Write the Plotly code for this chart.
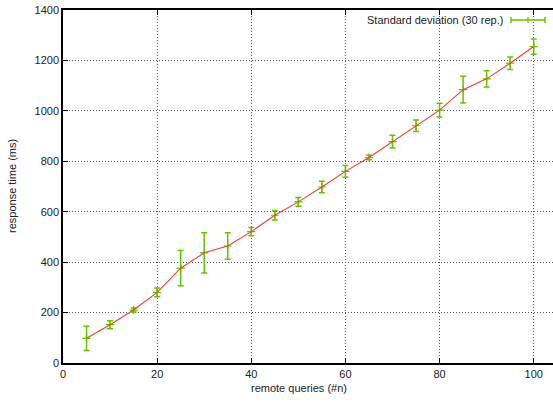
import plotly.graph_objects as go

queries = [5, 10, 15, 20, 25, 30, 35, 40, 45, 50, 55, 60, 65, 70, 75, 80, 85, 90, 95, 100]
resp_ms = [98, 152, 210, 280, 376, 437, 464, 521, 586, 639, 698, 760, 815, 878, 941, 1003, 1084, 1127, 1189, 1255]
std_ms = [48, 16, 8, 17, 70, 80, 53, 16, 19, 17, 23, 23, 9, 25, 23, 27, 53, 32, 25, 30]

legend_label = "Standard deviation (30 rep.)"
x_title = "remote queries (#n)"
y_title = "response time (ms)"
x_ticks = [0, 20, 40, 60, 80, 100]
y_ticks = [0, 200, 400, 600, 800, 1000, 1200, 1400]

RED = "#e8412c"
GREEN = "#64c400"
FONT = "Liberation Sans, Arial, sans-serif"

fig = go.Figure()
fig.add_trace(go.Scatter(
    x=queries, y=resp_ms, mode="markers",
    marker=dict(symbol="cross-thin", size=6, line=dict(color=GREEN, width=1.2), color=GREEN),
    error_y=dict(type="data", array=std_ms, visible=True, color=GREEN, thickness=1.5, width=3),
    showlegend=False, hoverinfo="skip"))
fig.add_trace(go.Scatter(
    x=queries, y=resp_ms, mode="lines",
    line=dict(color=RED, width=1.1),
    showlegend=False))

axis_common = dict(
    showline=True, linecolor="black", linewidth=1.5,
    ticks="inside", ticklen=5, tickcolor="black", tickwidth=1,
    showgrid=True, gridcolor="#555555", gridwidth=1, griddash="1px,2px",
    zeroline=False, tickfont=dict(family=FONT, size=11, color="#222222"),
)
fig.update_xaxes(range=[0, 104.1], tickvals=x_ticks, mirror="all", **axis_common)
fig.update_yaxes(range=[0, 1400], tickvals=y_ticks, mirror=False, **axis_common)

fig.update_layout(
    width=553, height=402,
    margin=dict(l=63, r=0, t=10, b=39),
    plot_bgcolor="white", paper_bgcolor="white",
    font=dict(family=FONT, size=11, color="#222222"),
    showlegend=False,
)

# axis titles
fig.add_annotation(text=x_title, xref="paper", yref="paper", x=(299 - 63) / 490, y=-(388 - 363) / 353,
                   showarrow=False, xanchor="center", yanchor="middle", font=dict(size=11))
fig.add_annotation(text=y_title, xref="paper", yref="paper", x=-(63 - 12) / 490, y=(363 - 186) / 353,
                   showarrow=False, textangle=-90, xanchor="center", yanchor="middle", font=dict(size=11))

# legend entry (text + sample)
ly = 1 - (20 - 10) / 353
fig.add_annotation(text=legend_label, xref="paper", yref="paper", x=(505 - 63) / 490, y=ly,
                   showarrow=False, xanchor="right", yanchor="middle", font=dict(size=11))
x0 = (511 - 63) / 490
x1 = (545 - 63) / 490
xm = (528 - 63) / 490
dy = 3 / 353
fig.add_shape(type="line", xref="paper", yref="paper", x0=x0, x1=x1, y0=ly, y1=ly,
              line=dict(color=GREEN, width=1.5))
fig.add_shape(type="line", xref="paper", yref="paper", x0=x0, x1=x0, y0=ly - dy, y1=ly + dy,
              line=dict(color=GREEN, width=1.5))
fig.add_shape(type="line", xref="paper", yref="paper", x0=x1, x1=x1, y0=ly - dy, y1=ly + dy,
              line=dict(color=GREEN, width=1.5))
fig.add_shape(type="line", xref="paper", yref="paper", x0=xm, x1=xm, y0=ly - dy, y1=ly + dy,
              line=dict(color=GREEN, width=1.2))

fig.write_html("out.html")
